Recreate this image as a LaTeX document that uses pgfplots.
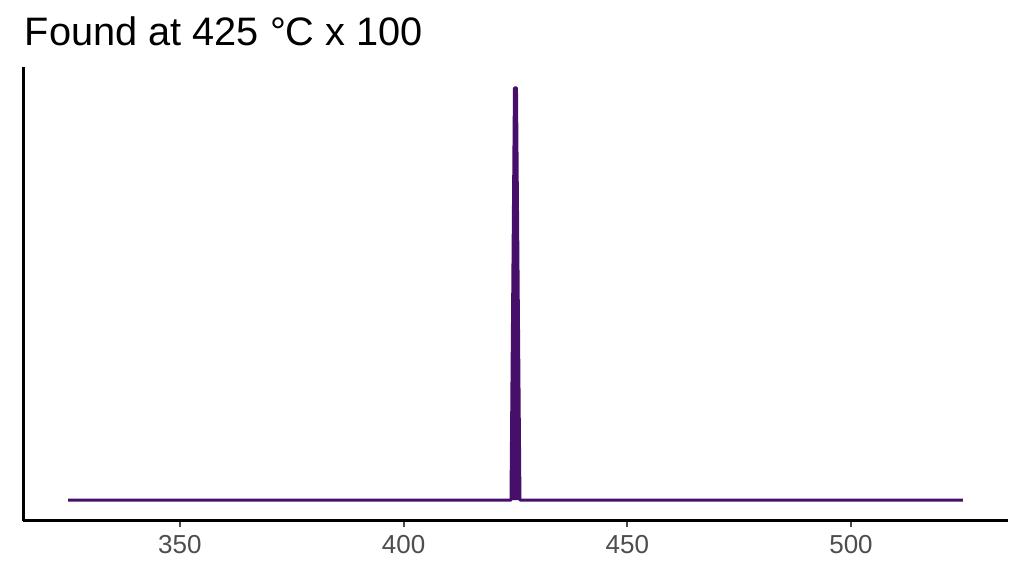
\documentclass[border=0pt]{standalone}
\usepackage{fontspec}
\setmainfont{Liberation Sans}
\usepackage{pgfplots}
\pgfplotsset{compat=1.18}
\definecolor{peak}{RGB}{70,15,105}
\definecolor{ticklab}{RGB}{77,77,77}

\begin{document}
\begin{tikzpicture}
% page frame, 1024x576 px at 0.75pt per px
\path (0,0) rectangle (768pt,432pt);
\node[anchor=base west, inner sep=0pt, font=\fontsize{29.8}{32}\selectfont]
  at (18.5pt,397.5pt) {Found at 425 °C x 100};
\begin{axis}[
    at={(17.5pt,41.5pt)}, anchor=south west,
    scale only axis,
    width=738.2pt, height=340pt,
    xmin=315, xmax=535,
    ymin=-0.05, ymax=1.05,
    axis x line*=bottom, axis y line*=left,
    axis line style={black, line width=1.9pt, -},
    xtick={350,400,450,500},
    ytick=\empty,
    tick align=outside,
    major tick length=5pt,
    x tick style={ticklab, line width=1.6pt},
    xticklabel style={font=\fontsize{19.5}{21}\selectfont, text=ticklab, inner sep=0pt, anchor=north, yshift=-6pt},
    /pgf/number format/assume math mode=true,
    clip=false,
]
\addplot[draw=peak, fill=peak, line width=2.25pt, line join=round] coordinates {
    (325,0)(424,0)(424.78,1)(425.22,1)(426,0)(525,0)
};
\end{axis}
\end{tikzpicture}
\end{document}
